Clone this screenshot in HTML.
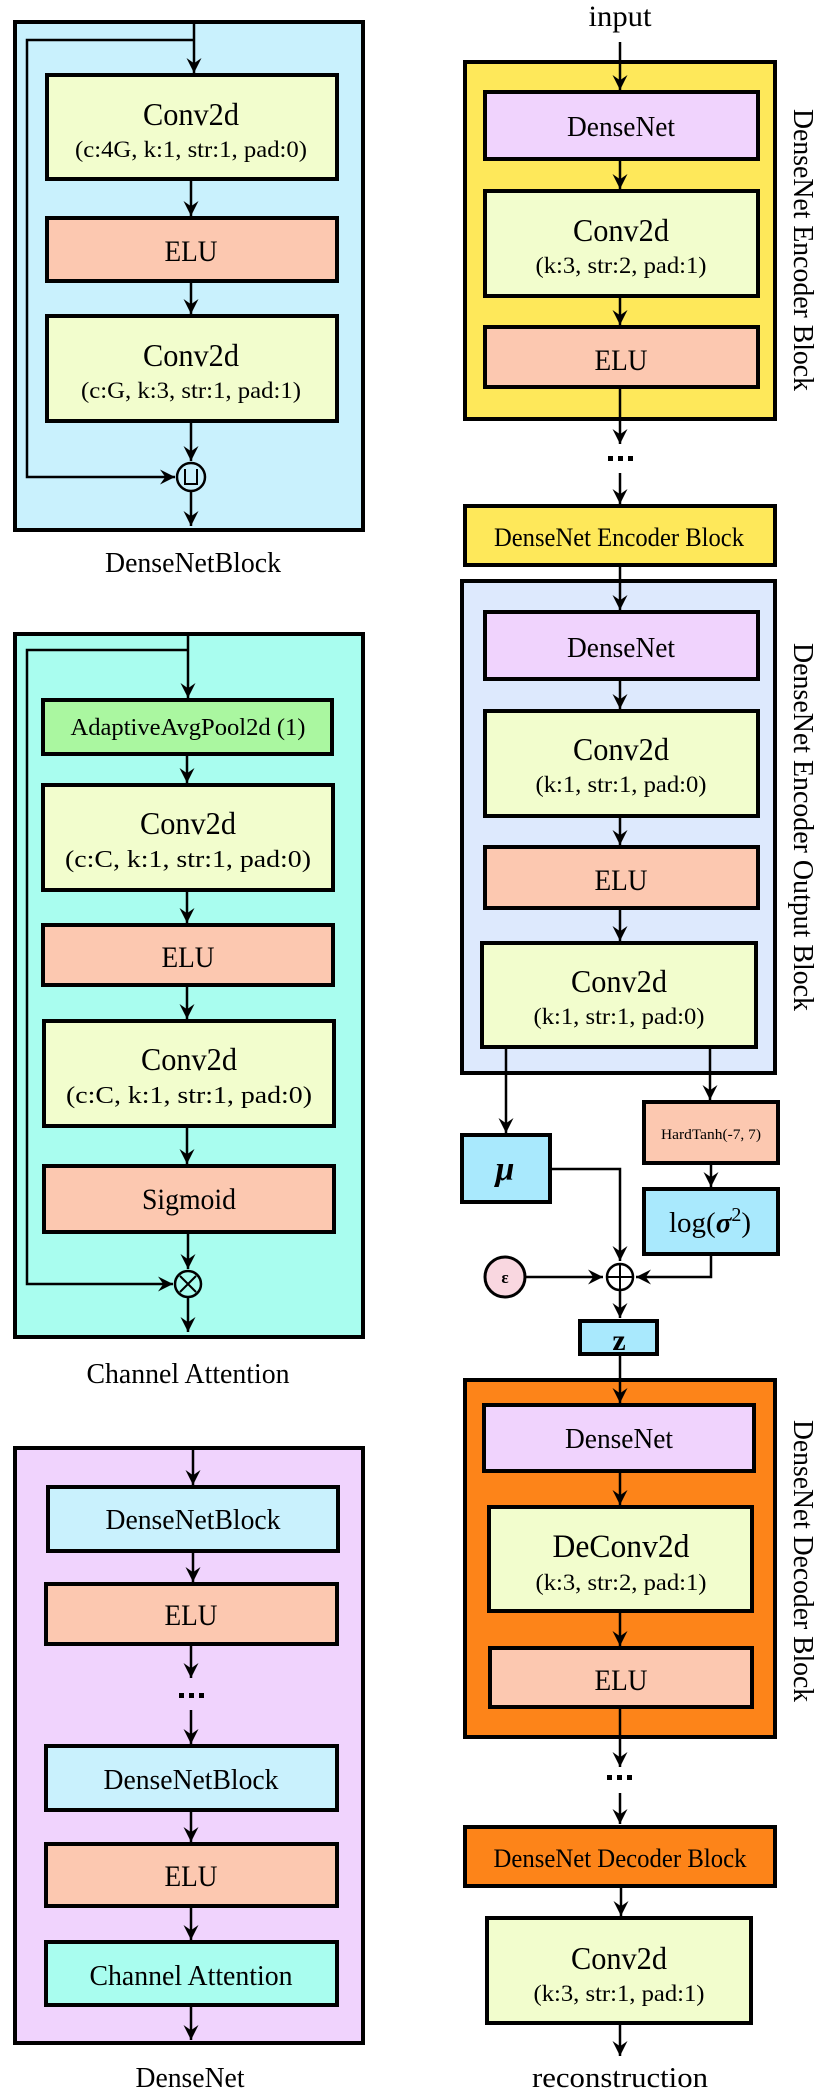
<!DOCTYPE html>
<html><head><meta charset="utf-8"><style>html,body{margin:0;padding:0;background:#fff}svg{display:block}</style></head>
<body>
<svg width="830" height="2097" viewBox="0 0 830 2097" xmlns="http://www.w3.org/2000/svg" font-family="Liberation Serif, serif">
<defs>
<marker id="a" viewBox="0 0 10 10" refX="10" refY="5" markerWidth="15" markerHeight="15" markerUnits="userSpaceOnUse" orient="auto">
<path d="M0,0 L10,5 L0,10 L3.5,5 z" fill="#000"/>
</marker>
</defs>
<g stroke="#000" stroke-width="4">
<rect x="15" y="22" width="348" height="508" fill="#c9f1fd"/>
<rect x="15" y="634" width="348" height="703" fill="#a9fdef"/>
<rect x="15" y="1448" width="348" height="595" fill="#f0d3fd"/>
<rect x="465" y="62" width="310" height="357" fill="#fee85a"/>
<rect x="465" y="506" width="310" height="59" fill="#fee85a"/>
<rect x="462" y="581" width="313" height="492" fill="#dde9fd"/>
<rect x="465" y="1380" width="310" height="357" fill="#fd8419"/>
<rect x="465" y="1827" width="310" height="59" fill="#fd8419"/>
</g>
<g stroke="#000" stroke-width="2.5" fill="none">
<line x1="194" y1="22" x2="194" y2="73" marker-end="url(#a)"/>
<path d="M194,40 H27 V477 H175" marker-end="url(#a)"/>
<line x1="191" y1="179" x2="191" y2="216" marker-end="url(#a)"/>
<line x1="191" y1="281" x2="191" y2="314" marker-end="url(#a)"/>
<line x1="191" y1="421" x2="191" y2="461" marker-end="url(#a)"/>
<line x1="191" y1="492" x2="191" y2="526" marker-end="url(#a)"/>
<line x1="188" y1="634" x2="188" y2="698" marker-end="url(#a)"/>
<path d="M188,650 H27 V1284 H173" marker-end="url(#a)"/>
<line x1="187" y1="754" x2="187" y2="783" marker-end="url(#a)"/>
<line x1="187" y1="890" x2="187" y2="923" marker-end="url(#a)"/>
<line x1="187" y1="985" x2="187" y2="1019" marker-end="url(#a)"/>
<line x1="187" y1="1126" x2="187" y2="1164" marker-end="url(#a)"/>
<line x1="188" y1="1232" x2="188" y2="1269" marker-end="url(#a)"/>
<line x1="188" y1="1298" x2="188" y2="1332" marker-end="url(#a)"/>
<line x1="193" y1="1448" x2="193" y2="1485" marker-end="url(#a)"/>
<line x1="193" y1="1551" x2="193" y2="1582" marker-end="url(#a)"/>
<line x1="191" y1="1644" x2="191" y2="1678" marker-end="url(#a)"/>
<line x1="191" y1="1710" x2="191" y2="1744" marker-end="url(#a)"/>
<line x1="191" y1="1810" x2="191" y2="1842" marker-end="url(#a)"/>
<line x1="191" y1="1906" x2="191" y2="1940" marker-end="url(#a)"/>
<line x1="191" y1="2005" x2="191" y2="2040" marker-end="url(#a)"/>
<line x1="620" y1="42" x2="620" y2="90" marker-end="url(#a)"/>
<line x1="620" y1="159" x2="620" y2="189" marker-end="url(#a)"/>
<line x1="620" y1="296" x2="620" y2="325" marker-end="url(#a)"/>
<line x1="620" y1="387" x2="620" y2="444" marker-end="url(#a)"/>
<line x1="620" y1="473" x2="620" y2="504" marker-end="url(#a)"/>
<line x1="620" y1="565" x2="620" y2="610" marker-end="url(#a)"/>
<line x1="620" y1="679" x2="620" y2="709" marker-end="url(#a)"/>
<line x1="620" y1="816" x2="620" y2="845" marker-end="url(#a)"/>
<line x1="620" y1="908" x2="620" y2="941" marker-end="url(#a)"/>
<line x1="506" y1="1047" x2="506" y2="1133" marker-end="url(#a)"/>
<line x1="710" y1="1047" x2="710" y2="1100" marker-end="url(#a)"/>
<line x1="711" y1="1163" x2="711" y2="1187" marker-end="url(#a)"/>
<path d="M550,1169 H620 V1261" marker-end="url(#a)"/>
<path d="M711,1254 V1277 H636" marker-end="url(#a)"/>
<line x1="526" y1="1277" x2="603" y2="1277" marker-end="url(#a)"/>
<line x1="620" y1="1291" x2="620" y2="1318" marker-end="url(#a)"/>
<line x1="620" y1="1354" x2="620" y2="1403" marker-end="url(#a)"/>
<line x1="620" y1="1471" x2="620" y2="1505" marker-end="url(#a)"/>
<line x1="620" y1="1611" x2="620" y2="1646" marker-end="url(#a)"/>
<line x1="620" y1="1707" x2="620" y2="1767" marker-end="url(#a)"/>
<line x1="620" y1="1793" x2="620" y2="1824" marker-end="url(#a)"/>
<line x1="621" y1="1886" x2="621" y2="1916" marker-end="url(#a)"/>
<line x1="620" y1="2023" x2="620" y2="2056" marker-end="url(#a)"/>
</g>
<g stroke="#000" stroke-width="4">
<rect x="47" y="75" width="290" height="104" fill="#f2fdcd"/>
<rect x="47" y="218" width="290" height="63" fill="#fcc8b0"/>
<rect x="47" y="316" width="290" height="105" fill="#f2fdcd"/>
<rect x="43" y="700" width="289" height="54" fill="#aaf7a0"/>
<rect x="43" y="785" width="290" height="105" fill="#f2fdcd"/>
<rect x="43" y="925" width="290" height="60" fill="#fcc8b0"/>
<rect x="44" y="1021" width="290" height="105" fill="#f2fdcd"/>
<rect x="44" y="1166" width="290" height="66" fill="#fcc8b0"/>
<rect x="48" y="1487" width="290" height="64" fill="#c9f1fd"/>
<rect x="46" y="1584" width="291" height="60" fill="#fcc8b0"/>
<rect x="46" y="1746" width="291" height="64" fill="#c9f1fd"/>
<rect x="46" y="1844" width="291" height="62" fill="#fcc8b0"/>
<rect x="46" y="1942" width="291" height="63" fill="#a9fdef"/>
<rect x="485" y="92" width="273" height="67" fill="#f0d3fd"/>
<rect x="485" y="191" width="273" height="105" fill="#f2fdcd"/>
<rect x="485" y="327" width="273" height="60" fill="#fcc8b0"/>
<rect x="485" y="612" width="273" height="67" fill="#f0d3fd"/>
<rect x="485" y="711" width="273" height="105" fill="#f2fdcd"/>
<rect x="485" y="847" width="273" height="61" fill="#fcc8b0"/>
<rect x="482" y="943" width="274" height="104" fill="#f2fdcd"/>
<rect x="462" y="1135" width="88" height="67" fill="#a9e9fd"/>
<rect x="644" y="1102" width="134" height="61" fill="#fcc8b0"/>
<rect x="644" y="1189" width="134" height="65" fill="#a9e9fd"/>
<rect x="580" y="1321" width="77" height="33" fill="#a9e9fd"/>
<rect x="484" y="1405" width="270" height="66" fill="#f0d3fd"/>
<rect x="489" y="1507" width="263" height="104" fill="#f2fdcd"/>
<rect x="490" y="1648" width="262" height="59" fill="#fcc8b0"/>
<rect x="487" y="1918" width="264" height="105" fill="#f2fdcd"/>
</g>
<g stroke="#000" stroke-width="2.5">
<circle cx="191" cy="477" r="14" fill="#c9f1fd"/>
<path d="M185,469 V484 H197 V469" fill="none" stroke-width="2"/>
<circle cx="188" cy="1284" r="13" fill="#a9fdef"/>
<path d="M180,1276 L196,1292 M196,1276 L180,1292" stroke-width="2"/>
<circle cx="620" cy="1277" r="13" fill="#fff"/>
<path d="M607,1277 H633 M620,1264 V1290" stroke-width="2"/>
<circle cx="505" cy="1277" r="20" fill="#f9d7e0" stroke-width="3"/>
</g>
<g fill="#000">
<rect x="179" y="1693" width="5" height="5"/><rect x="189" y="1693" width="5" height="5"/><rect x="199" y="1693" width="5" height="5"/>
<rect x="608" y="456" width="5" height="5"/><rect x="618" y="456" width="5" height="5"/><rect x="628" y="456" width="5" height="5"/>
<rect x="607" y="1775" width="5" height="5"/><rect x="617" y="1775" width="5" height="5"/><rect x="627" y="1775" width="5" height="5"/>
</g>
<g fill="#000" text-anchor="middle">
<text x="191" y="125" font-size="32" textLength="96" lengthAdjust="spacingAndGlyphs">Conv2d</text>
<text x="191" y="157" font-size="23" textLength="232" lengthAdjust="spacingAndGlyphs">(c:4G, k:1, str:1, pad:0)</text>
<text x="191" y="261" font-size="30" textLength="53" lengthAdjust="spacingAndGlyphs">ELU</text>
<text x="191" y="366" font-size="32" textLength="96" lengthAdjust="spacingAndGlyphs">Conv2d</text>
<text x="191" y="398" font-size="23" textLength="220" lengthAdjust="spacingAndGlyphs">(c:G, k:3, str:1, pad:1)</text>
<text x="193" y="572" font-size="28" textLength="176" lengthAdjust="spacingAndGlyphs">DenseNetBlock</text>
<text x="188" y="735" font-size="24" textLength="235" lengthAdjust="spacingAndGlyphs">AdaptiveAvgPool2d (1)</text>
<text x="188" y="834" font-size="32" textLength="96" lengthAdjust="spacingAndGlyphs">Conv2d</text>
<text x="188" y="867" font-size="24" textLength="246" lengthAdjust="spacingAndGlyphs">(c:C, k:1, str:1, pad:0)</text>
<text x="188" y="967" font-size="30" textLength="53" lengthAdjust="spacingAndGlyphs">ELU</text>
<text x="189" y="1070" font-size="32" textLength="96" lengthAdjust="spacingAndGlyphs">Conv2d</text>
<text x="189" y="1103" font-size="24" textLength="246" lengthAdjust="spacingAndGlyphs">(c:C, k:1, str:1, pad:0)</text>
<text x="189" y="1209" font-size="30" textLength="94" lengthAdjust="spacingAndGlyphs">Sigmoid</text>
<text x="188" y="1383" font-size="28" textLength="203" lengthAdjust="spacingAndGlyphs">Channel Attention</text>
<text x="193" y="1529" font-size="28" textLength="175" lengthAdjust="spacingAndGlyphs">DenseNetBlock</text>
<text x="191" y="1625" font-size="30" textLength="53" lengthAdjust="spacingAndGlyphs">ELU</text>
<text x="191" y="1789" font-size="28" textLength="175" lengthAdjust="spacingAndGlyphs">DenseNetBlock</text>
<text x="191" y="1886" font-size="30" textLength="53" lengthAdjust="spacingAndGlyphs">ELU</text>
<text x="191" y="1985" font-size="28" textLength="203" lengthAdjust="spacingAndGlyphs">Channel Attention</text>
<text x="190" y="2087" font-size="28" textLength="109" lengthAdjust="spacingAndGlyphs">DenseNet</text>
<text x="620" y="26" font-size="30" textLength="63" lengthAdjust="spacingAndGlyphs">input</text>
<text x="621" y="136" font-size="29" textLength="108" lengthAdjust="spacingAndGlyphs">DenseNet</text>
<text x="621" y="241" font-size="32" textLength="96" lengthAdjust="spacingAndGlyphs">Conv2d</text>
<text x="621" y="273" font-size="23" textLength="171" lengthAdjust="spacingAndGlyphs">(k:3, str:2, pad:1)</text>
<text x="621" y="370" font-size="30" textLength="53" lengthAdjust="spacingAndGlyphs">ELU</text>
<text x="619" y="546" font-size="26" textLength="250" lengthAdjust="spacingAndGlyphs">DenseNet Encoder Block</text>
<text x="621" y="657" font-size="29" textLength="108" lengthAdjust="spacingAndGlyphs">DenseNet</text>
<text x="621" y="760" font-size="32" textLength="96" lengthAdjust="spacingAndGlyphs">Conv2d</text>
<text x="621" y="792" font-size="23" textLength="171" lengthAdjust="spacingAndGlyphs">(k:1, str:1, pad:0)</text>
<text x="621" y="890" font-size="30" textLength="53" lengthAdjust="spacingAndGlyphs">ELU</text>
<text x="619" y="992" font-size="32" textLength="96" lengthAdjust="spacingAndGlyphs">Conv2d</text>
<text x="619" y="1024" font-size="23" textLength="171" lengthAdjust="spacingAndGlyphs">(k:1, str:1, pad:0)</text>
<text x="505" y="1180" font-size="34" font-weight="bold" font-style="italic">μ</text>
<text x="711" y="1139" font-size="15" textLength="100" lengthAdjust="spacingAndGlyphs">HardTanh(-7, 7)</text>
<text x="710" y="1232" font-size="29">log(<tspan font-weight="bold" font-style="italic">σ</tspan><tspan font-size="20" dy="-11">2</tspan><tspan dy="11">)</tspan></text>
<text x="505" y="1283" font-size="17" font-weight="bold">ε</text>
<text x="619" y="1350" font-size="30" font-weight="bold">z</text>
<text x="619" y="1448" font-size="29" textLength="108" lengthAdjust="spacingAndGlyphs">DenseNet</text>
<text x="621" y="1557" font-size="33" textLength="137" lengthAdjust="spacingAndGlyphs">DeConv2d</text>
<text x="621" y="1590" font-size="23" textLength="171" lengthAdjust="spacingAndGlyphs">(k:3, str:2, pad:1)</text>
<text x="621" y="1690" font-size="30" textLength="53" lengthAdjust="spacingAndGlyphs">ELU</text>
<text x="620" y="1867" font-size="26" textLength="253" lengthAdjust="spacingAndGlyphs">DenseNet Decoder Block</text>
<text x="619" y="1969" font-size="32" textLength="96" lengthAdjust="spacingAndGlyphs">Conv2d</text>
<text x="619" y="2001" font-size="23" textLength="171" lengthAdjust="spacingAndGlyphs">(k:3, str:1, pad:1)</text>
<text x="620" y="2087" font-size="29" textLength="176" lengthAdjust="spacingAndGlyphs">reconstruction</text>
<text transform="translate(803,250) rotate(90)" dominant-baseline="central" font-size="29" textLength="282" lengthAdjust="spacingAndGlyphs">DenseNet Encoder Block</text>
<text transform="translate(803,827) rotate(90)" dominant-baseline="central" font-size="29" textLength="368" lengthAdjust="spacingAndGlyphs">DenseNet Encoder Output Block</text>
<text transform="translate(803,1561) rotate(90)" dominant-baseline="central" font-size="29" textLength="282" lengthAdjust="spacingAndGlyphs">DenseNet Decoder Block</text>
</g>
</svg>
</body></html>
